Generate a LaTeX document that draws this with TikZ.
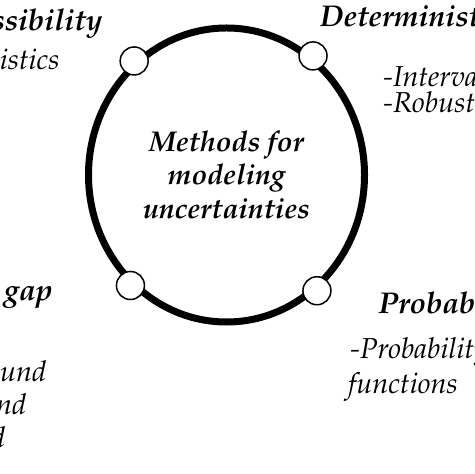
\documentclass[tikz,border=0pt]{standalone}
\usepackage[T1]{fontenc}
\usepackage{mathpazo}
\usetikzlibrary{shapes.geometric}

\tikzset{
  ring/.style={draw, ellipse, line width=3.5pt, minimum width=138pt, minimum height=147pt,
    inner sep=0pt, align=center, font=\fontsize{14.3}{16.8}\selectfont\bfseries\itshape},
  joint/.style={draw, circle, fill=white, line width=0.75pt, minimum size=14pt, inner sep=0pt},
  head/.style={font=\fontsize{15}{17}\selectfont\bfseries\itshape, inner sep=0pt},
  item/.style={font=\fontsize{14.4}{17}\selectfont\itshape, inner sep=0pt},
}

\begin{document}
\begin{tikzpicture}[x=0.5pt, y=-0.5pt]
    \useasboundingbox (0,0) rectangle (474,474);

    % Main ring with the title
    \node[ring] (ring) at (226.5,175) {Methods for\\modeling\\uncertainties};

    % Joints on the ring
    \foreach \a/\n in {129/tl, 54/tr, 229/bl, 308/br}
        \node[joint] (\n) at (ring.\a) {};

    % Top left group
    \node[head, anchor=base east] (poss) at (103,31) {Possibility};
    \node[item, anchor=base east] (possa) at (60,70) {tistics};

    % Top right group
    \node[head, anchor=base west] (det) at (320,27) {Deterministic};
    \node[item, anchor=base west] (deta) at (383,87) {-Interval};
    \node[item, anchor=base west] (detb) at (383,113) {-Robust};

    % Bottom left group
    \node[head, anchor=base east] (gap) at (53,300) {e gap};
    \node[item, anchor=base east] (gapa) at (47,381) {rund};
    \node[item, anchor=base east] (gapb) at (27,414) {nd};
    \node[item, anchor=base east] (gapc) at (6,447) {d};

    % Bottom right group
    \node[head, anchor=base west] (prob) at (378,314) {Probabilistic};
    \node[item, anchor=base west] (proba) at (350,358) {-Probability};
    \node[item, anchor=base west] (probb) at (348,393) {functions};
\end{tikzpicture}
\end{document}
